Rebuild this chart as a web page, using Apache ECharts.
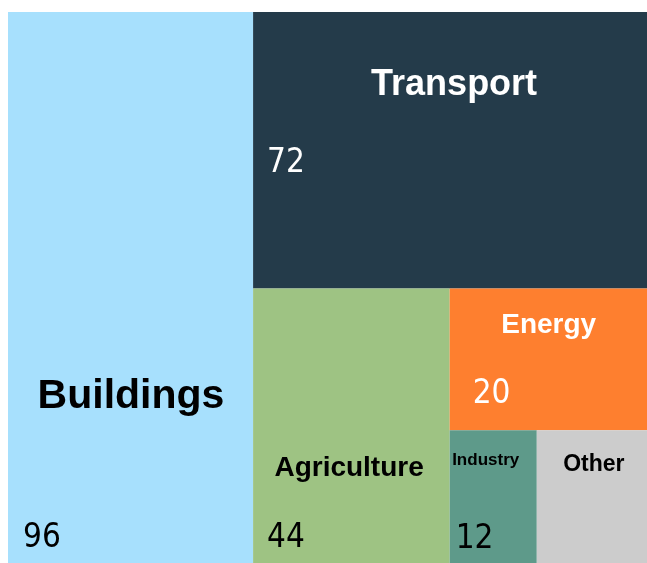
<!DOCTYPE html>
<html>
<head>
<meta charset="utf-8">
<script src="https://cdn.jsdelivr.net/npm/echarts@6/dist/echarts.min.js"></script>
<style>
html,body{margin:0;padding:0;background:#ffffff;overflow:hidden}
#c{width:647px;height:563px}
</style>
</head>
<body>
<div id="c"></div>
<script>
// ---- data ----
const categories = ['Buildings', 'Transport', 'Agriculture', 'Energy', 'Industry', 'Other'];
const values = [96, 72, 44, 20, 12, 20];
const valueShown = [true, true, true, true, true, false];

// ---- styles ----
const cellColors = ['#a7e0fd', '#243b4a', '#9ec383', '#fe7f2f', '#5e9a8a', '#cccccc'];
const textColors = ['#000000', '#ffffff', '#000000', '#ffffff', '#000000', '#000000'];
const nameSizes = [41, 36, 28, 28, 17, 23];
const nameAnchors = [[123, 385], [201, 73], [96, 180], [99, 37], [36, 30], [57, 34]];
const valueAnchors = [[15, 526], [14, 151], [14, 250], [23, 106], [6, 109], [0, 0]];

const NAME_FONT = '"Liberation Sans", Arial, Helvetica, sans-serif';
const NUM_FONT = '"Liberation Sans Narrow", "DejaVu Sans Condensed", "Roboto Condensed", sans-serif';

const box = { left: 8, top: 12, width: 674, height: 645 };

const common = {
  type: 'treemap',
  left: box.left, top: box.top, width: box.width, height: box.height,
  roam: false,
  nodeClick: false,
  sort: false,
  squareRatio: 0.6,
  visibleMin: 0,
  breadcrumb: { show: false },
  emphasis: { disabled: true },
  animation: false
};

const nameData = categories.map((n, i) => ({
  name: n,
  value: values[i],
  itemStyle: { color: cellColors[i], borderWidth: 0, gapWidth: 0 },
  label: {
    show: true,
    position: nameAnchors[i],
    align: 'center',
    verticalAlign: 'middle',
    padding: 0,
    fontSize: nameSizes[i],
    fontWeight: 'bold',
    fontFamily: NAME_FONT,
    color: textColors[i],
    formatter: '{b}'
  }
}));

const valueData = categories.map((n, i) => ({
  name: n,
  value: values[i],
  itemStyle: { color: 'rgba(0,0,0,0)', borderColor: 'rgba(0,0,0,0)', borderWidth: 0, gapWidth: 0 },
  label: {
    show: valueShown[i],
    position: valueAnchors[i],
    align: 'left',
    verticalAlign: 'middle',
    padding: 0,
    fontSize: 33,
    fontWeight: 'normal',
    fontFamily: NUM_FONT,
    color: textColors[i],
    formatter: '{c}'
  }
}));

const chart = echarts.init(document.getElementById('c'), null, { renderer: 'canvas' });
chart.setOption({
  animation: false,
  backgroundColor: '#ffffff',
  tooltip: { show: false },
  series: [
    Object.assign({}, common, {
      name: 'sectors',
      itemStyle: { borderWidth: 0, gapWidth: 0, borderColor: '#ffffff' },
      levels: [{ itemStyle: { borderWidth: 0, gapWidth: 0 } }],
      data: nameData
    }),
    Object.assign({}, common, {
      name: 'values',
      silent: true,
      itemStyle: { color: 'rgba(0,0,0,0)', borderWidth: 0, gapWidth: 0, borderColor: 'rgba(0,0,0,0)' },
      levels: [{ itemStyle: { color: 'rgba(0,0,0,0)', borderWidth: 0, gapWidth: 0, borderColor: 'rgba(0,0,0,0)' } }],
      data: valueData
    })
  ]
});
</script>
</body>
</html>
